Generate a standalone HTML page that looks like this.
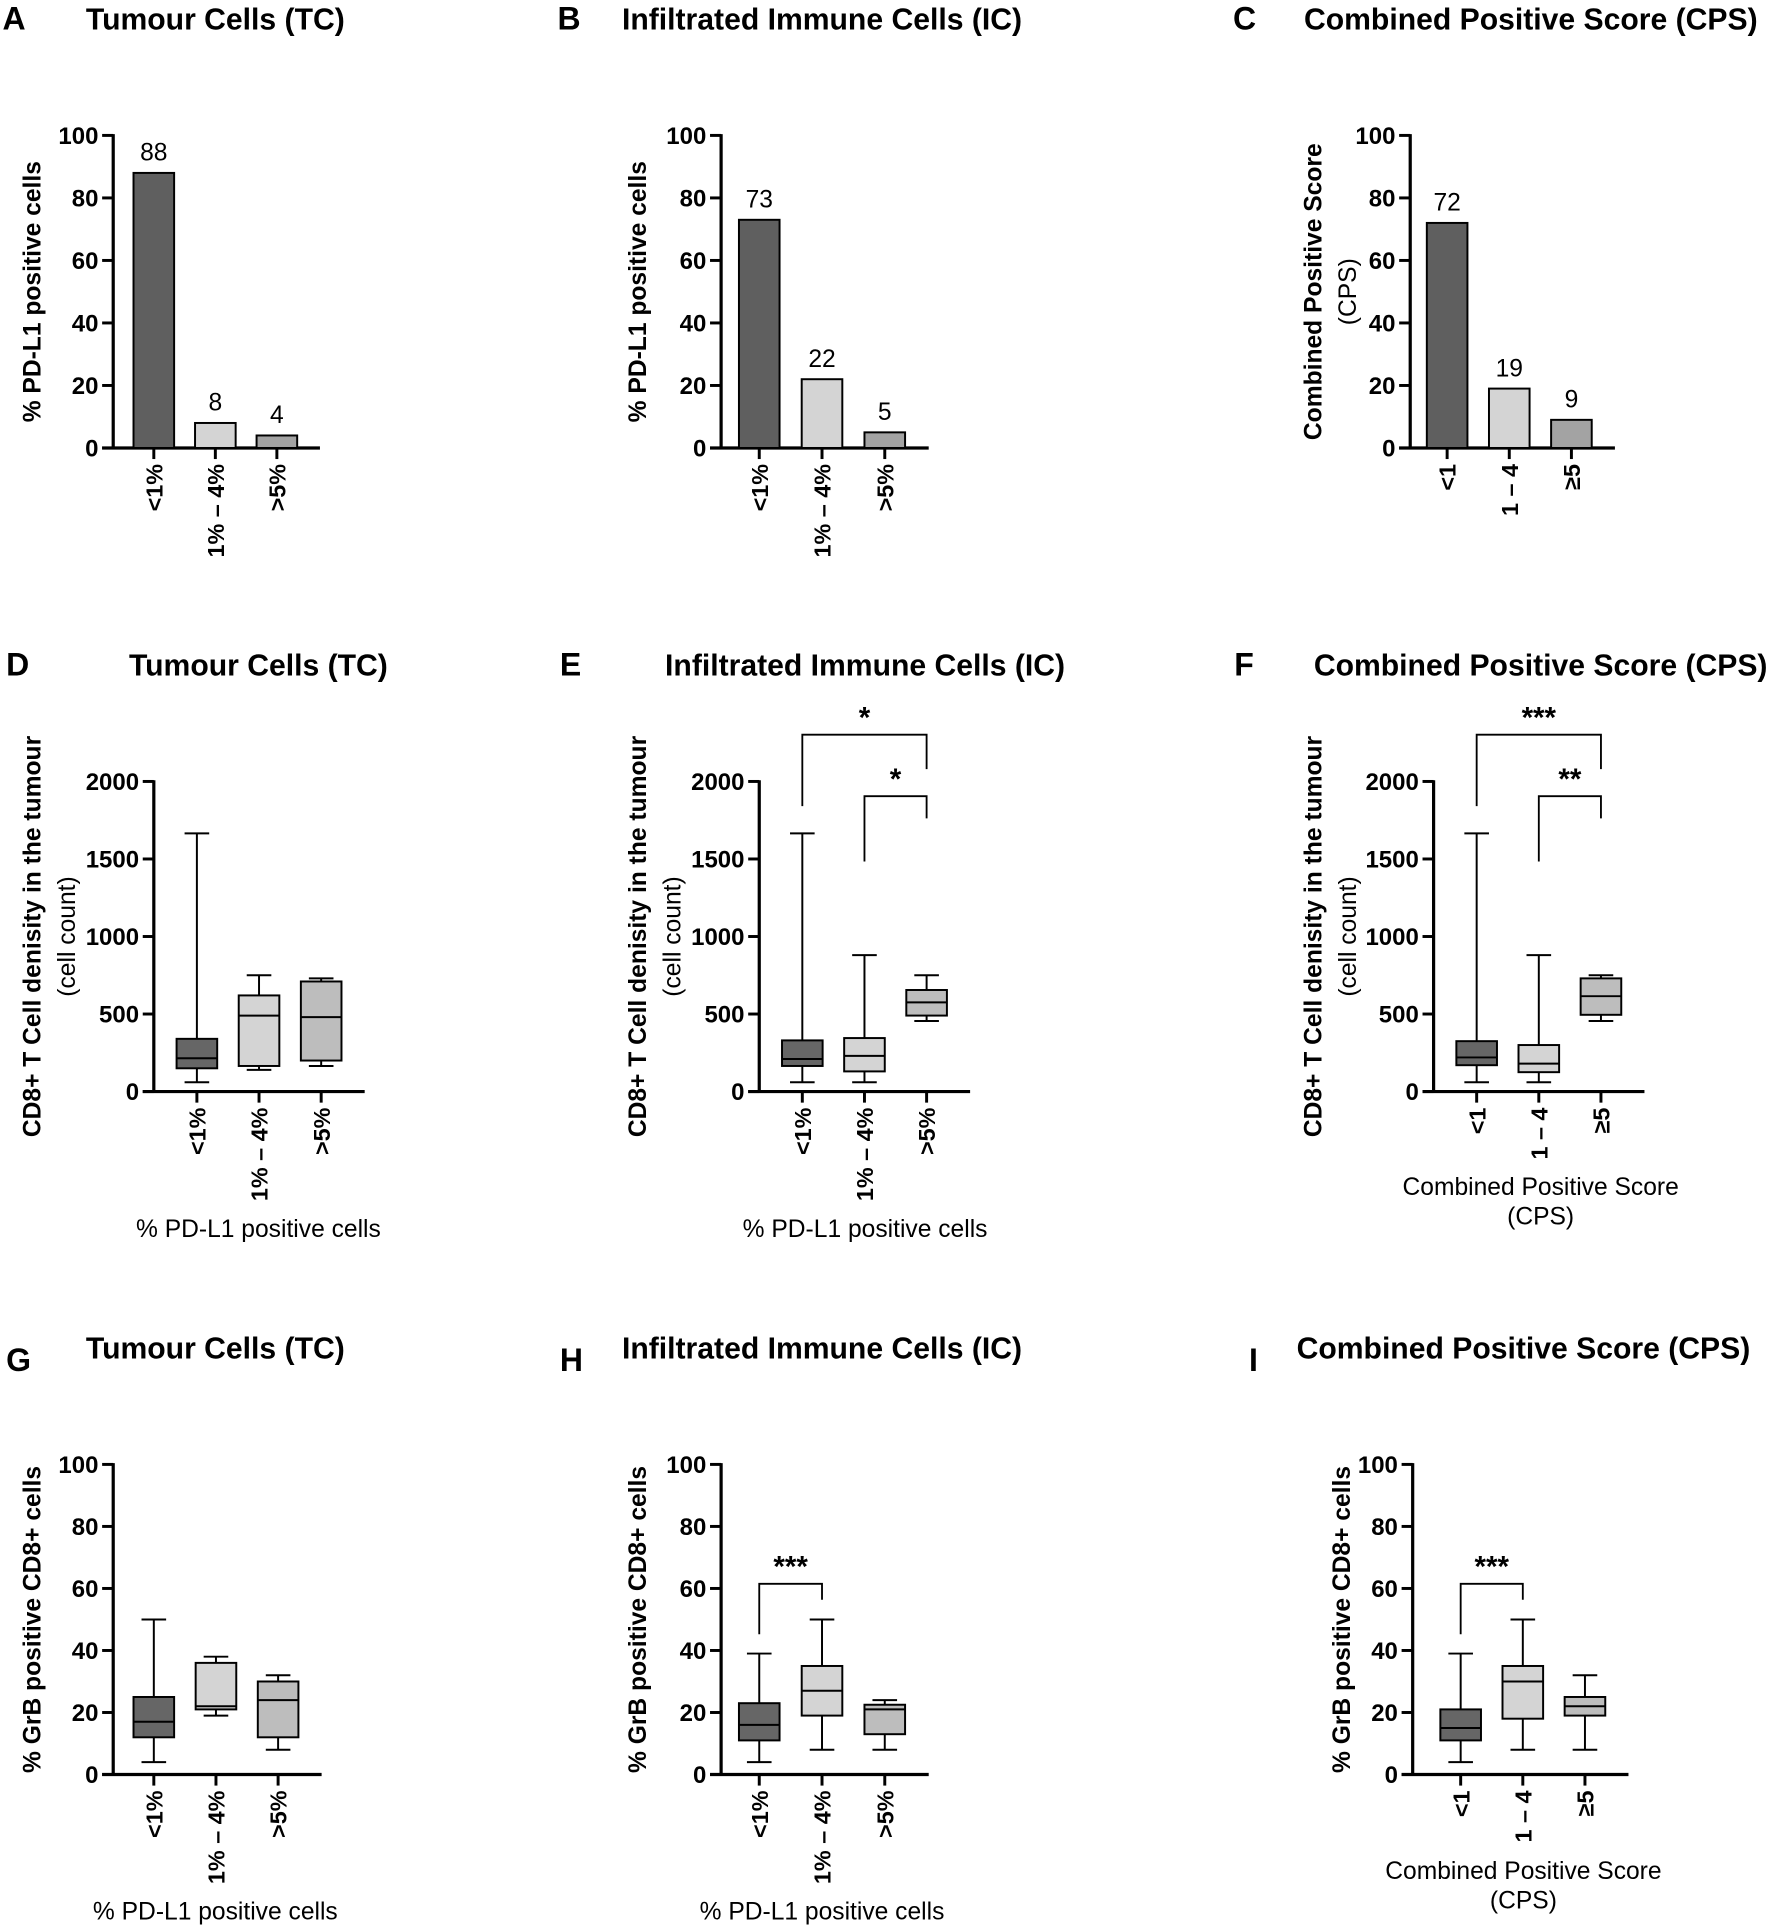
<!DOCTYPE html>
<html><head><meta charset="utf-8"><style>
html,body{margin:0;padding:0;background:#fff;}
svg{display:block;font-family:"Liberation Sans",Arial,sans-serif;}
</style></head><body>
<svg id="fig" width="1772" height="1929" viewBox="0 0 1440 1567.5" xmlns="http://www.w3.org/2000/svg"></svg>
<script>
// ---- Data ----
const pctCats = ["<1%", "1% – 4%", ">5%"];
const cpsCats = ["<1", "1 – 4", "≥5"];
const barValsA = [88, 8, 4];
const barValsB = [73, 22, 5];
const barValsC = [72, 19, 9];
const barTicks = [0, 20, 40, 60, 80, 100];
const densTicks = [0, 500, 1000, 1500, 2000];
// box stats: [min, q1, median, q3, max]
const boxD = [[60,150,215,340,1665],[140,165,490,620,750],[165,200,480,710,730]];
const boxE = [[60,165,210,330,1665],[60,130,230,345,880],[455,490,575,655,750]];
const boxF = [[60,170,220,325,1665],[60,125,180,300,880],[455,495,615,730,750]];
const boxG = [[4,12,17,25,50],[19,21,22,36,38],[8,12,24,30,32]];
const boxH = [[4,11,16,23,39],[8,19,27,35,50],[8,13,21,22.5,24]];
const boxI = [[4,11,15,21,39],[8,18,30,35,50],[8,19,22,25,32]];
const sigE = [[0,2,"*"],[1,2,"*"]];
const sigF = [[0,2,"***"],[1,2,"**"]];
const sigH = [[0,1,"***"]];
const sigI = [[0,1,"***"]];

const fills = ["#5f5f5f", "#d4d4d4", "#a3a3a3"];
const boxFills = ["#666666", "#d4d4d4", "#bdbdbd"];
const NS = "http://www.w3.org/2000/svg";
const fig = document.getElementById('fig');
function mk(tag, attrs, parent, txt) {
  const e = document.createElementNS(NS, tag);
  for (const k in attrs) e.setAttribute(k, attrs[k]);
  if (txt !== undefined) e.textContent = txt;
  (parent || fig).appendChild(e);
  return e;
}

function panel(o) {
  const g = mk('g', {});
  
  
  const L = mk('text', {x:o.lx, y:o.ly, 'font-size':26, 'font-weight':'bold'}, g, o.letter);
  
  
  const T = mk('text', {x:o.tx, y:o.ty, 'font-size':24.5, 'font-weight':'bold', 'text-anchor':'middle'}, g, o.title);
  
  
  const ymax = o.ticks[o.ticks.length-1];
  const ys = v => o.y0 - (v / ymax) * (o.y0 - o.ytop);
  const xs = i => o.ax + o.c0 + i * o.step;
  const ya = mk('line', {x1:o.ax, y1:ys(ymax)-1, x2:o.ax, y2:o.y0+1, stroke:'#000', 'stroke-width':2.6}, g);
  
  
  o.ticks.forEach(t => {
    mk('line', {x1:o.ax-9, y1:ys(t), x2:o.ax, y2:ys(t), stroke:'#000', 'stroke-width':2.4}, g);
    const tl = mk('text', {x:o.ax-12, y:ys(t)+7, 'font-size':19.5, 'font-weight':'bold', 'text-anchor':'end'}, g, t);
    
    
  });
  const xe = xs(2) + o.step*0.7;
  const xa = mk('line', {x1:o.ax-9, y1:o.y0, x2:xe, y2:o.y0, stroke:'#000', 'stroke-width':2.6}, g);
  
  
  o.cats.forEach((c, i) => {
    mk('line', {x1:xs(i), y1:o.y0, x2:xs(i), y2:o.y0+9, stroke:'#000', 'stroke-width':2.4}, g);
    const xl = mk('text', {x:xs(i)+7, y:o.y0+13, 'font-size':19, 'font-weight':'bold', 'text-anchor':'end', transform:`rotate(-90 ${xs(i)+7} ${o.y0+13})`}, g, c);
    
    
  });
  const ymid = (o.y0 + o.ytop) / 2;
  o.ylab.forEach((s, k) => {
    const yl = mk('text', {x:o.ylx + k*28, y:ymid, 'font-size':20, 'font-weight':k===0?'bold':'normal', 'text-anchor':'middle', transform:`rotate(-90 ${o.ylx + k*28} ${ymid})`}, g, s);
    
    
  });
  (o.xlab || []).forEach((s, k) => {
    const xt = mk('text', {x:o.xlx, y:o.xly + k*24, 'font-size':20, 'text-anchor':'middle'}, g, s);
    
    
  });
  const bw = 33;
  if (o.bars) {
    o.bars.forEach((v, i) => {
      const r = mk('rect', {x:xs(i)-bw/2, y:ys(v), width:bw, height:o.y0-ys(v), fill:fills[i], stroke:'#000', 'stroke-width':1.6}, g);
      
      
      const vl = mk('text', {x:xs(i), y:ys(v)-10, 'font-size':20, 'text-anchor':'middle'}, g, v);
      
      
    });
  }
  if (o.boxes) {
    o.boxes.forEach((b, i) => {
      const bg = mk('g', {}, g);
      
      
      const cx = xs(i);
      mk('line', {x1:cx, y1:ys(b[0]), x2:cx, y2:ys(b[1]), stroke:'#000', 'stroke-width':1.6}, bg);
      mk('line', {x1:cx, y1:ys(b[3]), x2:cx, y2:ys(b[4]), stroke:'#000', 'stroke-width':1.6}, bg);
      mk('line', {x1:cx-10, y1:ys(b[0]), x2:cx+10, y2:ys(b[0]), stroke:'#000', 'stroke-width':1.6}, bg);
      mk('line', {x1:cx-10, y1:ys(b[4]), x2:cx+10, y2:ys(b[4]), stroke:'#000', 'stroke-width':1.6}, bg);
      mk('rect', {x:cx-bw/2, y:ys(b[3]), width:bw, height:ys(b[1])-ys(b[3]), fill:boxFills[i], stroke:'#000', 'stroke-width':1.6}, bg);
      mk('line', {x1:cx-bw/2, y1:ys(b[2]), x2:cx+bw/2, y2:ys(b[2]), stroke:'#000', 'stroke-width':1.6}, bg);
    });
  }
  (o.sig || []).forEach((s, k) => {
    const sg = mk('g', {}, g);
    
    
    const a = xs(s[0]), b = xs(s[1]);
    const top = o.sigTop[k], la = o.sigLeg[k][0], lb = o.sigLeg[k][1];
    mk('polyline', {points:`${a},${la} ${a},${top} ${b},${top} ${b},${lb}`, fill:'none', stroke:'#000', 'stroke-width':1.5}, sg);
    mk('text', {x:(a+b)/2, y:top-6, 'font-size':24, 'font-weight':'bold', 'text-anchor':'middle'}, sg, s[2]);
  });
}

// Row 1
panel({letter:'A', lx:2, ly:24, ty:24, tx:175, title:'Tumour Cells (TC)', ax:92, c0:33, step:50, y0:364, ytop:110, ticks:barTicks, cats:pctCats, bars:barValsA, ylab:['% PD-L1 positive cells'], ylx:33});
panel({letter:'B', lx:453, ly:24, ty:24, tx:668, title:'Infiltrated Immune Cells (IC)', ax:586, c0:31, step:51, y0:364, ytop:110, ticks:barTicks, cats:pctCats, bars:barValsB, ylab:['% PD-L1 positive cells'], ylx:525});
panel({letter:'C', lx:1002, ly:24, ty:24, tx:1244, title:'Combined Positive Score (CPS)', ax:1146, c0:30, step:50.5, y0:364, ytop:110, ticks:barTicks, cats:cpsCats, bars:barValsC, ylab:['Combined Positive Score','(CPS)'], ylx:1074});
// Row 2
panel({letter:'D', lx:5, ly:549, ty:549, tx:210, title:'Tumour Cells (TC)', ax:125, c0:35, step:50.5, y0:887, ytop:635, ticks:densTicks, cats:pctCats, boxes:boxD, ylab:['CD8+ T Cell denisity in the tumour','(cell count)'], ylx:33, xlab:['% PD-L1 positive cells'], xlx:210, xly:1005});
panel({letter:'E', lx:455, ly:549, ty:549, tx:703, title:'Infiltrated Immune Cells (IC)', ax:617, c0:35, step:50.5, y0:887, ytop:635, ticks:densTicks, cats:pctCats, boxes:boxE, ylab:['CD8+ T Cell denisity in the tumour','(cell count)'], ylx:525, xlab:['% PD-L1 positive cells'], xlx:703, xly:1005, sig:sigE, sigTop:[597,647], sigLeg:[[655,625],[700,665]]});
panel({letter:'F', lx:1003, ly:549, ty:549, tx:1252, title:'Combined Positive Score (CPS)', ax:1165, c0:35, step:50.5, y0:887, ytop:635, ticks:densTicks, cats:cpsCats, boxes:boxF, ylab:['CD8+ T Cell denisity in the tumour','(cell count)'], ylx:1074, xlab:['Combined Positive Score','(CPS)'], xlx:1252, xly:971, sig:sigF, sigTop:[597,647], sigLeg:[[655,625],[700,665]]});
// Row 3
panel({letter:'G', lx:5, ly:1114, ty:1104, tx:175, title:'Tumour Cells (TC)', ax:92, c0:33, step:50.5, y0:1442, ytop:1190, ticks:barTicks, cats:pctCats, boxes:boxG, ylab:['% GrB positive CD8+ cells'], ylx:33, xlab:['% PD-L1 positive cells'], xlx:175, xly:1560});
panel({letter:'H', lx:455, ly:1114, ty:1104, tx:668, title:'Infiltrated Immune Cells (IC)', ax:586, c0:31, step:51, y0:1442, ytop:1190, ticks:barTicks, cats:pctCats, boxes:boxH, ylab:['% GrB positive CD8+ cells'], ylx:525, xlab:['% PD-L1 positive cells'], xlx:668, xly:1560, sig:sigH, sigTop:[1287], sigLeg:[[1328,1300]]});
panel({letter:'I', lx:1015, ly:1114, ty:1104, tx:1238, title:'Combined Positive Score (CPS)', ax:1148, c0:39, step:50.5, y0:1442, ytop:1190, ticks:barTicks, cats:cpsCats, boxes:boxI, ylab:['% GrB positive CD8+ cells'], ylx:1097, xlab:['Combined Positive Score','(CPS)'], xlx:1238, xly:1527, sig:sigI, sigTop:[1287], sigLeg:[[1328,1300]]});
</script>
</body></html>
